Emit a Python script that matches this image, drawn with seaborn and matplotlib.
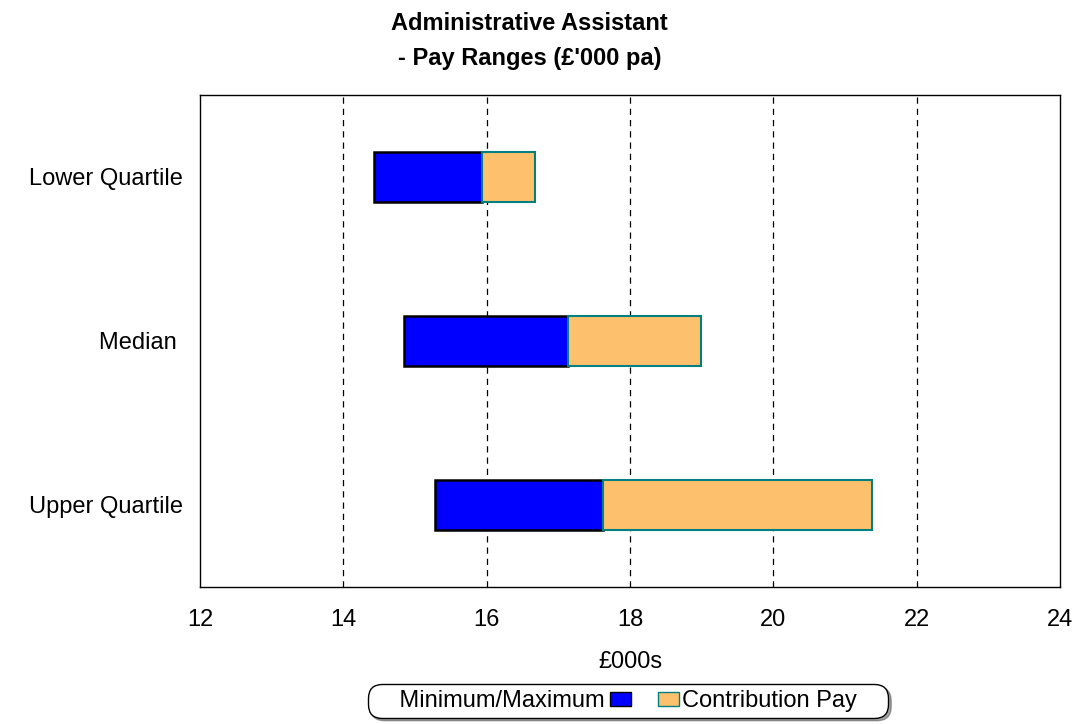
import matplotlib
matplotlib.use("Agg")
import matplotlib.pyplot as plt
import seaborn as sns
import pandas as pd
from matplotlib.patches import Patch

categories = ["Lower Quartile", "Median ", "Upper Quartile"]
minimum = [14.43, 14.85, 15.28]
maximum = [15.94, 17.13, 17.63]
contribution_top = [16.67, 18.99, 21.37]

df = pd.DataFrame({
    "category": categories,
    "minimum": minimum,
    "maximum": maximum,
    "contribution_top": contribution_top,
})
df["base_width"] = df["maximum"] - df["minimum"]
df["contrib_width"] = df["contribution_top"] - df["maximum"]

sns.set_theme(style="white")
plt.rcParams["font.family"] = ["Liberation Sans", "DejaVu Sans"]
plt.rcParams["text.color"] = "black"
plt.rcParams["axes.labelcolor"] = "black"

fig = plt.figure(figsize=(10.81, 7.24), dpi=100)
ax = fig.add_axes([200 / 1081, 1 - 587 / 724, 860 / 1081, 492 / 724])

sns.barplot(data=df, x="base_width", y="category", orient="h", left=df["minimum"].values,
            color="#0000FF", edgecolor="black", linewidth=1.8, width=0.30,
            saturation=1, ax=ax, zorder=3)
sns.barplot(data=df, x="contrib_width", y="category", orient="h", left=df["maximum"].values,
            color="#FDC06C", edgecolor="#008080", linewidth=1.5, width=0.30,
            saturation=1, ax=ax, zorder=3)

ax.set_xlim(12, 24)
ax.set_ylim(2.5, -0.5)
ax.set_xticks([12, 14, 16, 18, 20, 22, 24])
ax.tick_params(axis="both", length=0, labelsize=17, colors="black")
ax.tick_params(axis="x", pad=16)
ax.tick_params(axis="y", pad=12)
for x in [14, 16, 18, 20, 22]:
    ax.axvline(x, color="black", linestyle=(0, (5, 4)), linewidth=0.9, zorder=1)
for s in ax.spines.values():
    s.set_visible(True)
    s.set_color("black")
    s.set_linewidth(1.0)
ax.set_ylabel("")
ax.set_xlabel("£000s", fontsize=17, labelpad=14, color="black")

fig.suptitle("Administrative Assistant\n- Pay Ranges (£'000 pa)", x=0.49, y=0.983,
             fontsize=17, fontweight="bold", linespacing=1.65, color="black")

handles = [Patch(facecolor="#0000FF", edgecolor="black"),
           Patch(facecolor="#FDC06C", edgecolor="#008080"),
           Patch(facecolor="none", edgecolor="none")]
labels = ["    Minimum/Maximum", "   ", "Contribution Pay"]
leg = fig.legend(handles, labels, loc="center",
                 bbox_to_anchor=(628 / 1081, 1 - 701 / 724), ncol=3, fontsize=17,
                 markerfirst=False, frameon=True, fancybox=True, shadow=True,
                 handlelength=0.9, handleheight=0.55, handletextpad=0.2,
                 columnspacing=0.1, borderpad=0.25, borderaxespad=0,
                 edgecolor="black")
leg.get_frame().set_linewidth(1.0)
leg.get_frame().set_boxstyle("round", pad=0.0, rounding_size=0.6)
for t in leg.get_texts():
    t.set_color("black")

fig.savefig("out.png", dpi=100)
